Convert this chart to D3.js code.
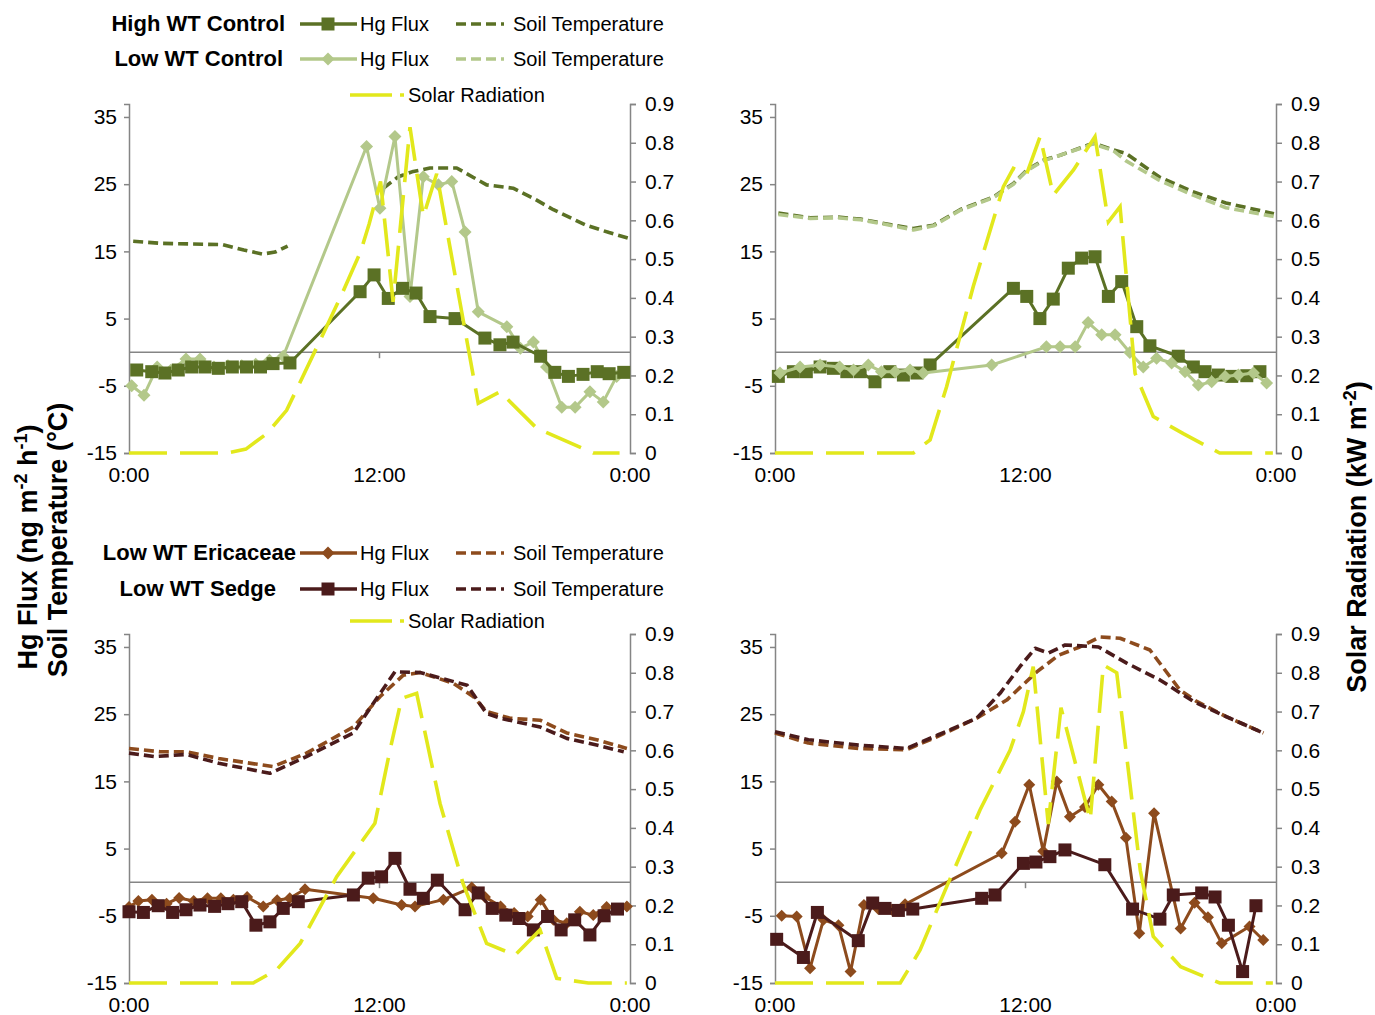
<!DOCTYPE html>
<html>
<head>
<meta charset="utf-8">
<script src="https://cdn.jsdelivr.net/npm/d3@7"></script>
<style>
  body { margin: 0; background: #fff; }
  svg text { font-family: "Liberation Sans", Arial, sans-serif; fill: #000; }
</style>
</head>
<body>
<div id="chart"></div>
<script>

// hours of day
var tlHighFlux = [[0.37,-2.65],[1.09,-2.9],[1.72,-3.1],[2.36,-2.65],[3.0,-2.2],[3.64,-2.2],[4.28,-2.4],[4.95,-2.2],[5.63,-2.2],[6.3,-2.2],[6.9,-1.7],[7.71,-1.6],[11.07,9.0],[11.74,11.5],[12.42,8.0],[13.1,9.5],[13.75,8.8],[14.42,5.3],[15.62,5.0],[17.05,2.1],[17.77,1.1],[18.4,1.5],[19.72,-0.6],[20.4,-3.0],[21.05,-3.6],[21.75,-3.3],[22.43,-2.9],[23.0,-3.2],[23.7,-3.0]];
var tlLowFlux = [[0.13,-5.0],[0.72,-6.4],[1.35,-2.2],[2.0,-2.7],[2.73,-1.0],[3.4,-1.0],[4.07,-2.2],[4.74,-2.0],[5.4,-2.0],[6.07,-1.8],[6.73,-1.2],[7.39,-0.6],[11.38,30.6],[12.02,21.4],[12.74,32.1],[13.46,8.3],[14.1,26.1],[14.82,24.9],[15.46,25.4],[16.1,17.9],[16.73,6.0],[18.1,3.8],[18.75,0.6],[19.37,1.5],[20.0,-2.2],[20.73,-8.2],[21.37,-8.2],[22.08,-5.9],[22.72,-7.4],[23.36,-3.6]];
var tlHighTemp = [[0.2,16.5],[1.5,16.2],[3.0,16.1],[4.5,16.0],[5.5,15.2],[6.4,14.6],[7.0,14.9],[7.6,15.8],[10.0,null],[12.18,24.4],[12.9,26.1],[13.62,26.9],[14.42,27.4],[15.7,27.4],[16.5,26.0],[17.13,24.9],[18.4,24.4],[19.37,22.9],[20.33,21.2],[21.9,18.9],[23.0,17.8],[24.0,16.9]];
var tlSolar = [[0,0],[4.68,0],[5.6,0.01],[6.6,0.05],[7.55,0.11],[9.15,0.29],[10.2,0.41],[11.1,0.52],[11.5,0.59],[12.05,0.70],[12.65,0.39],[13.46,0.84],[14.1,0.61],[14.74,0.72],[16.73,0.128],[17.77,0.158],[19.53,0.064],[22.24,0],[23.5,0]];

var trHighFlux = [[0.16,-3.6],[0.88,-2.9],[1.5,-2.9],[2.16,-2.2],[2.8,-2.4],[3.44,-2.9],[4.08,-2.9],[4.79,-4.4],[5.5,-2.9],[6.15,-3.4],[6.8,-3.1],[7.43,-1.9],[11.42,9.5],[12.06,8.3],[12.69,5.0],[13.33,7.9],[14.05,12.5],[14.69,14.0],[15.33,14.2],[15.97,8.3],[16.61,10.5],[17.33,3.8],[17.96,0.95],[19.32,-0.6],[20.04,-2.2],[20.6,-2.9],[21.24,-3.4],[21.88,-3.6],[22.6,-3.5],[23.23,-2.9]];
var trLowFlux = [[0.24,-3.1],[1.2,-2.2],[2.16,-1.9],[3.1,-2.2],[3.76,-2.65],[4.47,-1.9],[5.1,-2.9],[5.75,-2.9],[6.47,-2.65],[7.1,-3.1],[10.38,-1.9],[13.0,0.8],[13.66,0.8],[14.38,0.8],[15.0,4.4],[15.65,2.6],[16.29,2.6],[17.0,-0.05],[17.64,-2.2],[18.28,-0.9],[19.0,-1.6],[19.64,-2.9],[20.28,-4.9],[20.92,-4.4],[21.56,-3.6],[22.2,-3.4],[22.92,-3.1],[23.55,-4.6]];
var trHighTemp = [[0.16,20.7],[1.7,20.0],[3.0,20.1],[4.1,19.8],[5.5,19.0],[6.63,18.4],[7.6,18.9],[8.86,21.2],[10.46,23.1],[11.42,25.1],[12.06,27.1],[12.87,28.6],[13.66,29.3],[15.25,31.1],[16.2,30.1],[16.8,29.6],[18.4,26.1],[20.0,23.9],[21.6,22.2],[23.35,21.0],[23.9,20.6]];
var trLowTemp = [[0.16,20.5],[1.7,19.9],[3.0,20.0],[4.1,19.7],[5.5,18.9],[6.63,18.2],[7.6,18.8],[8.86,21.1],[10.46,23.0],[11.42,25.0],[12.06,27.0],[12.87,28.5],[13.66,29.3],[15.25,31.0],[16.2,30.0],[16.8,28.5],[18.4,25.6],[20.0,23.4],[21.6,21.5],[23.35,20.5],[23.9,20.2]];
var trSolar = [[0,0],[6.63,0],[7.43,0.034],[8.22,0.171],[9.5,0.43],[10.94,0.687],[11.42,0.734],[12.06,0.72],[12.7,0.816],[13.33,0.665],[14.3,0.73],[15.33,0.816],[15.97,0.596],[16.53,0.635],[17.25,0.205],[18.12,0.094],[19.56,0.05],[21.3,0],[23.85,0]];

var blEricFlux = [[0,-3.7],[0.45,-2.8],[1.1,-2.6],[1.8,-3.2],[2.4,-2.35],[3.1,-2.8],[3.76,-2.4],[4.4,-2.4],[5.0,-2.6],[5.66,-2.2],[6.43,-3.6],[7.1,-2.7],[7.7,-2.4],[8.43,-1.05],[11.7,-2.4],[13.06,-3.4],[13.7,-3.6],[15.06,-2.6],[16.42,-0.8],[17.05,-2.2],[17.8,-3.6],[18.45,-4.6],[19.1,-5.1],[19.72,-2.6],[20.33,-5.6],[20.97,-6.1],[21.6,-4.4],[22.24,-4.9],[22.88,-3.7],[23.85,-3.6]];
var blSedgeFlux = [[0,-4.4],[0.69,-4.5],[1.4,-3.5],[2.09,-4.5],[2.73,-4.1],[3.4,-3.4],[4.1,-3.6],[4.74,-3.2],[5.4,-2.9],[6.08,-6.4],[6.75,-5.9],[7.39,-3.9],[8.11,-2.9],[10.75,-1.9],[11.46,0.6],[12.1,0.8],[12.74,3.55],[13.46,-1.05],[14.1,-2.4],[14.77,0.3],[16.1,-4.1],[16.73,-1.6],[17.4,-3.9],[18.05,-4.9],[18.68,-5.4],[19.37,-7.1],[20.05,-5.1],[20.7,-7.1],[21.35,-5.6],[22.08,-7.85],[22.76,-5.0],[23.4,-4.0]];
var blEricTemp = [[0,19.9],[1.5,19.4],[2.75,19.4],[4.3,18.4],[5.6,17.8],[6.9,17.2],[8.5,19.2],[10.75,23.1],[12.02,27.6],[13.14,30.8],[13.94,31.2],[15.54,29.6],[16.5,27.6],[17.13,25.4],[18.25,24.4],[19.69,24.1],[20.97,22.2],[22.4,21.2],[23.85,19.9]];
var blSedgeTemp = [[0,19.2],[1.2,18.7],[2.75,19.0],[4.3,17.7],[6.75,16.2],[8.5,18.7],[10.75,22.2],[11.7,26.6],[12.74,31.3],[13.94,31.2],[16.2,29.3],[17.13,25.1],[17.8,24.4],[19.69,23.1],[20.97,21.4],[22.4,20.4],[23.7,19.4]];
var blSolar = [[0,0],[5.95,0],[7.07,0.034],[8.2,0.102],[9.95,0.274],[11.78,0.412],[12.5,0.60],[13.06,0.734],[13.78,0.747],[14.9,0.463],[16.0,0.257],[17.13,0.102],[18.5,0.072],[19.69,0.137],[20.49,0.012],[22.0,0],[23.85,0]];

var brEricFlux = [[0.32,-5.0],[1.04,-5.1],[1.68,-12.8],[2.32,-5.6],[3.04,-6.4],[3.62,-13.3],[4.26,-3.4],[4.95,-4.0],[5.6,-4.1],[6.23,-3.3],[10.86,4.3],[11.5,9.0],[12.18,14.5],[12.85,4.6],[13.5,15.0],[14.13,9.75],[14.85,11.2],[15.49,14.5],[16.13,12.0],[16.81,6.6],[17.45,-7.6],[18.16,10.25],[19.43,-6.9],[20.1,-3.05],[20.74,-5.2],[21.4,-9.1],[22.73,-6.6],[23.39,-8.6]];
var brSedgeFlux = [[0.08,-8.5],[1.36,-11.2],[2.03,-4.5],[3.99,-8.7],[4.68,-3.1],[5.27,-3.9],[5.91,-4.2],[6.6,-4.0],[9.9,-2.4],[10.54,-1.9],[11.9,2.8],[12.5,3.0],[13.17,3.8],[13.89,4.8],[15.8,2.6],[17.13,-4.0],[18.44,-5.5],[19.08,-1.9],[20.44,-1.6],[21.08,-2.2],[21.72,-6.4],[22.4,-13.3],[23.04,-3.5]];
var brEricTemp = [[0,22.2],[1.6,20.7],[4,19.9],[6.3,19.7],[7.8,21.7],[9.66,24.4],[11.1,27.1],[12.54,31.3],[13.6,33.8],[14.6,35.0],[15.57,36.5],[16.53,36.3],[17.96,34.55],[19.4,28.6],[20.2,26.9],[21.64,24.6],[23.4,22.2]];
var brSedgeTemp = [[0,22.4],[1.6,21.2],[4,20.4],[6.3,19.9],[7.8,21.9],[9.66,24.4],[10.78,28.1],[11.74,32.1],[12.46,34.8],[13.1,34.1],[13.9,35.3],[15.5,35.0],[16.85,32.6],[18.44,30.1],[20.04,26.9],[21.64,24.6],[23.4,22.2]];
var brSolar = [[0,0],[6.0,0],[6.95,0.085],[8.22,0.248],[9.82,0.446],[11.26,0.60],[11.9,0.70],[12.37,0.816],[13.09,0.41],[13.7,0.71],[15.1,0.42],[15.73,0.82],[16.37,0.80],[17.5,0.29],[18.12,0.12],[19.43,0.042],[21.3,0],[23.85,0]];

var leftTicks = [-15, -5, 5, 15, 25, 35];
var rightTicks = [0, 0.1, 0.2, 0.3, 0.4, 0.5, 0.6, 0.7, 0.8, 0.9];
var timeTicks = [0, 12, 24];
var timeLabels = ["0:00", "12:00", "0:00"];

var c = {
  high: "#5b7125",
  low: "#b3c88a",
  solar: "#e2e81c",
  eric: "#8d4b1d",
  sedge: "#4b1b1b",
  axis: "#858585"
};

var svg = d3.select("#chart").append("svg")
  .attr("width", 1375)
  .attr("height", 1015);

function marker(type, s) {
  if (type == "square") return d3.symbol(d3.symbolSquare, s * s)();
  return "M0," + (-s / 2) + "L" + (s / 2) + ",0L0," + (s / 2) + "L" + (-s / 2) + ",0Z";
}

function drawPanel(left, bottom, series, solar) {
  var x = d3.scaleLinear().domain([0, 24]).range([left, left + 501]);
  var y = d3.scaleLinear().domain([-15, 36.93]).range([bottom, bottom - 349]);
  var y2 = d3.scaleLinear().domain([0, 0.9]).range([bottom, bottom - 349]);

  var g = svg.append("g");

  var yAxis = d3.axisLeft(y).tickValues(leftTicks).tickSize(5).tickPadding(7)
    .tickFormat(function (d) { return String(d); });
  var ax = g.append("g").attr("transform", "translate(" + left + ",0)").call(yAxis);
  var y2Axis = d3.axisRight(y2).tickValues(rightTicks).tickSize(6).tickPadding(9)
    .tickFormat(function (d) { return d === 0 ? "0" : d.toFixed(1); });
  var ax2 = g.append("g").attr("transform", "translate(" + (left + 501) + ",0)").call(y2Axis);
  [ax, ax2].forEach(function (a) {
    a.select(".domain").attr("stroke", c.axis).attr("stroke-width", 1.5);
    a.selectAll(".tick line").attr("stroke", c.axis).attr("stroke-width", 1.5);
    a.selectAll(".tick text").style("font-size", "21px").attr("font-family", null);
  });

  // zero line with the time axis tick
  g.append("line")
    .attr("x1", left).attr("x2", left + 501)
    .attr("y1", y(0)).attr("y2", y(0))
    .attr("stroke", c.axis).attr("stroke-width", 1.5);
  g.append("line")
    .attr("x1", x(12)).attr("x2", x(12))
    .attr("y1", y(0)).attr("y2", y(0) + 6)
    .attr("stroke", c.axis).attr("stroke-width", 1.5);

  g.selectAll(".tl")
    .data(timeTicks).enter()
    .append("text")
    .attr("x", function (d) { return x(d); })
    .attr("y", bottom + 29)
    .attr("text-anchor", "middle")
    .style("font-size", "21px")
    .text(function (d, i) { return timeLabels[i]; });

  var line = d3.line()
    .defined(function (d) { return d[1] !== null; })
    .x(function (d) { return x(d[0]); })
    .y(function (d) { return y(d[1]); });

  series.forEach(function (s) {
    g.append("path")
      .datum(s.data)
      .attr("fill", "none")
      .attr("stroke", s.color)
      .attr("stroke-width", s.kind == "temp" ? 3.6 : 3)
      .attr("stroke-dasharray", s.kind == "temp" ? "10,5" : null)
      .attr("stroke-linejoin", "round")
      .attr("d", line);
    if (s.kind == "flux") {
      g.selectAll(null)
        .data(s.data).enter()
        .append("path")
        .attr("transform", function (d) { return "translate(" + x(d[0]) + "," + y(d[1]) + ")"; })
        .attr("d", marker(s.marker, s.size))
        .attr("fill", s.color);
    }
  });

  var sline = d3.line()
    .x(function (d) { return x(d[0]); })
    .y(function (d) { return y2(d[1]); });
  g.append("path")
    .datum(solar)
    .attr("fill", "none")
    .attr("stroke", c.solar)
    .attr("stroke-width", 3.6)
    .attr("stroke-dasharray", "38,13")
    .attr("d", sline);
}

drawPanel(129, 453, [
  { kind: "temp", data: tlHighTemp, color: c.high },
  { kind: "flux", data: tlLowFlux, color: c.low, marker: "diamond", size: 13 },
  { kind: "flux", data: tlHighFlux, color: c.high, marker: "square", size: 13 }
], tlSolar);

drawPanel(775, 453, [
  { kind: "temp", data: trHighTemp, color: c.high },
  { kind: "temp", data: trLowTemp, color: c.low },
  { kind: "flux", data: trHighFlux, color: c.high, marker: "square", size: 13 },
  { kind: "flux", data: trLowFlux, color: c.low, marker: "diamond", size: 13 }
], trSolar);

drawPanel(129, 983, [
  { kind: "temp", data: blEricTemp, color: c.eric },
  { kind: "temp", data: blSedgeTemp, color: c.sedge },
  { kind: "flux", data: blEricFlux, color: c.eric, marker: "diamond", size: 12 },
  { kind: "flux", data: blSedgeFlux, color: c.sedge, marker: "square", size: 13 }
], blSolar);

drawPanel(775, 983, [
  { kind: "temp", data: brEricTemp, color: c.eric },
  { kind: "temp", data: brSedgeTemp, color: c.sedge },
  { kind: "flux", data: brEricFlux, color: c.eric, marker: "diamond", size: 12 },
  { kind: "flux", data: brSedgeFlux, color: c.sedge, marker: "square", size: 13 }
], brSolar);

// legends
function legendRow(yc, label, labelEnd, color, mk) {
  var g = svg.append("g");
  g.append("text").attr("x", labelEnd).attr("y", yc + 7)
    .attr("text-anchor", "end").style("font-size", "22px").style("font-weight", "bold")
    .text(label);
  g.append("line").attr("x1", 300).attr("x2", 357).attr("y1", yc).attr("y2", yc)
    .attr("stroke", color).attr("stroke-width", 3.6);
  g.append("path").attr("transform", "translate(328," + yc + ")")
    .attr("d", marker(mk, 13)).attr("fill", color);
  g.append("text").attr("x", 360).attr("y", yc + 7).style("font-size", "20px").text("Hg Flux");
  g.append("line").attr("x1", 456).attr("x2", 504).attr("y1", yc).attr("y2", yc)
    .attr("stroke", color).attr("stroke-width", 3.6).attr("stroke-dasharray", "10,5");
  g.append("text").attr("x", 513).attr("y", yc + 7).style("font-size", "20px").text("Soil Temperature");
}
function legendSolar(yc) {
  svg.append("line").attr("x1", 350).attr("x2", 404).attr("y1", yc).attr("y2", yc)
    .attr("stroke", c.solar).attr("stroke-width", 3.6).attr("stroke-dasharray", "42,8");
  svg.append("text").attr("x", 408).attr("y", yc + 7).style("font-size", "20px").text("Solar Radiation");
}

legendRow(24, "High WT Control", 285, c.high, "square");
legendRow(59, "Low WT Control", 283, c.low, "diamond");
legendSolar(95);
legendRow(553, "Low WT Ericaceae", 296, c.eric, "diamond");
legendRow(589, "Low WT Sedge", 276, c.sedge, "square");
legendSolar(621);

// axis titles
var lt = svg.append("text")
  .attr("transform", "translate(37,547) rotate(-90)")
  .attr("text-anchor", "middle")
  .style("font-size", "27px").style("font-weight", "bold");
lt.append("tspan").text("Hg Flux (ng m");
lt.append("tspan").attr("dy", -10).style("font-size", "18px").text("-2");
lt.append("tspan").attr("dy", 10).text(" h");
lt.append("tspan").attr("dy", -10).style("font-size", "18px").text("-1");
lt.append("tspan").attr("dy", 10).text(")");

svg.append("text")
  .attr("transform", "translate(67,540) rotate(-90)")
  .attr("text-anchor", "middle")
  .style("font-size", "27px").style("font-weight", "bold")
  .text("Soil Temperature (°C)");

var rt = svg.append("text")
  .attr("transform", "translate(1366,537) rotate(-90)")
  .attr("text-anchor", "middle")
  .style("font-size", "27px").style("font-weight", "bold");
rt.append("tspan").text("Solar Radiation (kW m");
rt.append("tspan").attr("dy", -10).style("font-size", "18px").text("-2");
rt.append("tspan").attr("dy", 10).text(")");

</script>
</body>
</html>
